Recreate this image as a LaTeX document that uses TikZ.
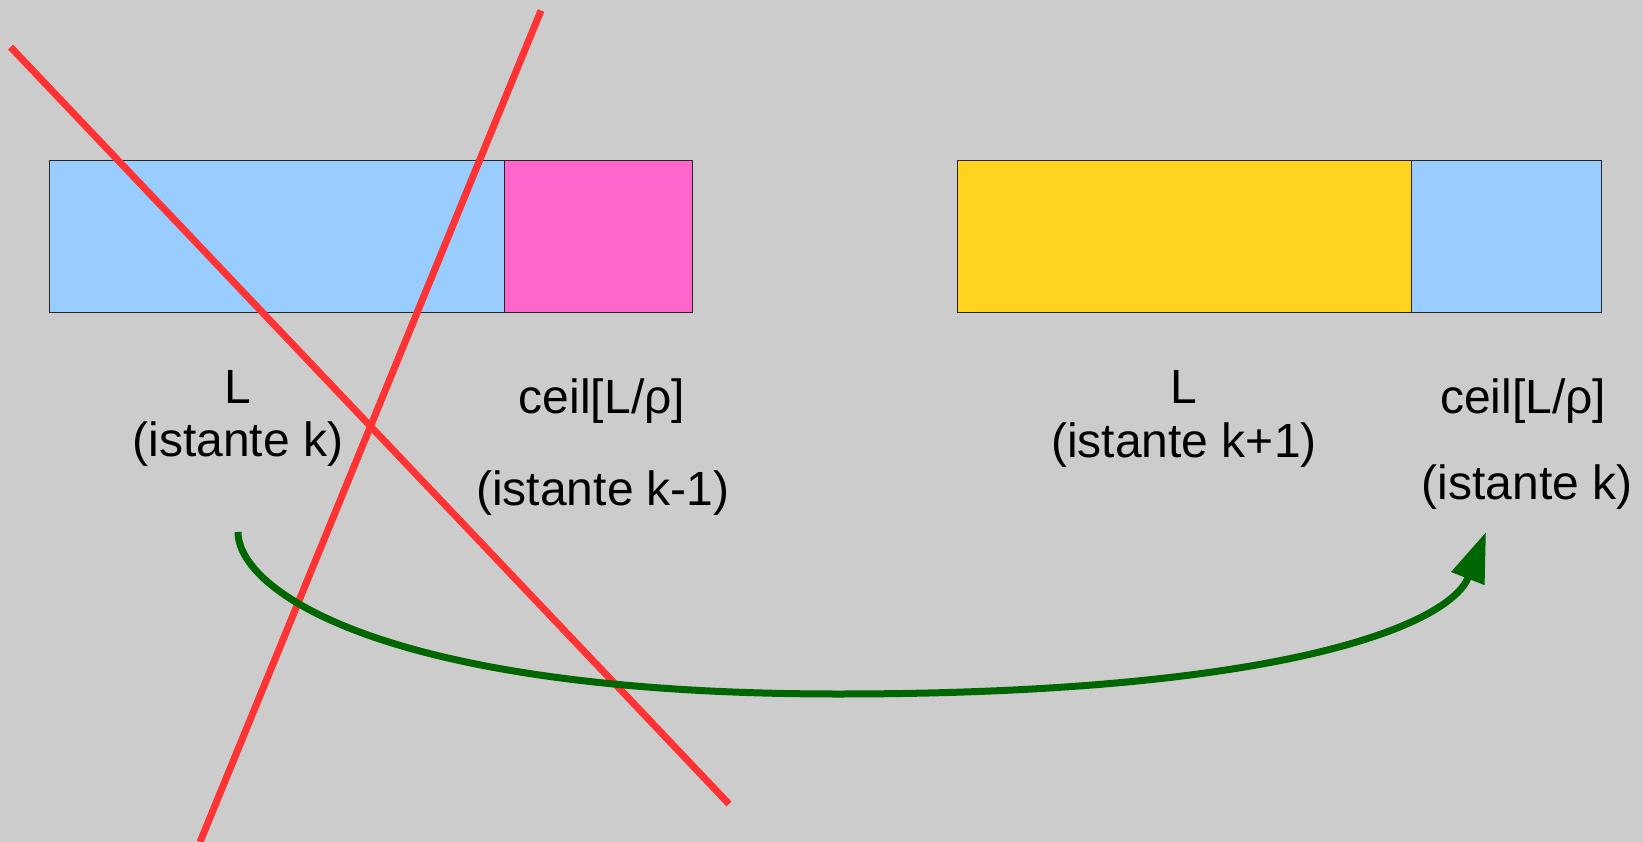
\documentclass[tikz,border=0pt]{standalone}
\usepackage{fontspec}
\setmainfont{Liberation Sans}
\usetikzlibrary{arrows.meta}
\definecolor{bgc}{HTML}{CCCCCC}
\definecolor{lblue}{HTML}{99CCFF}
\definecolor{pinkc}{HTML}{FF66CC}
\definecolor{goldc}{HTML}{FFD320}
\definecolor{redc}{HTML}{FF3333}
\definecolor{greenc}{HTML}{006600}
\tikzset{
  cell/.style={draw=black!85, line width=1pt, anchor=north west, inner sep=0pt, outer sep=0pt},
  lbl/.style={anchor=base, inner sep=0pt, font=\fontsize{48}{53}\selectfont},
  cross/.style={draw=redc, line width=7pt},
  flow/.style={draw=greenc, line width=7pt, -{Triangle[length=50pt,width=34pt]}}
}
\begin{document}
\begin{tikzpicture}[x=1pt,y=-1pt]
\fill[bgc] (0,0) rectangle (1643,842);
\useasboundingbox (0,0) rectangle (1643,842);
% left boxes
\node[cell, fill=lblue, minimum width=455pt, minimum height=151pt] (b1) at (49,161) {};
\node[cell, fill=pinkc, minimum width=188pt, minimum height=151pt] (b2) at (504,161) {};
% right boxes
\node[cell, fill=goldc, minimum width=454pt, minimum height=151pt] (b3) at (957,161) {};
\node[cell, fill=lblue, minimum width=190pt, minimum height=151pt] (b4) at (1411,161) {};
% labels
\node[lbl] (t1) at (238,403) {L};
\node[lbl] (t2) at (238,456) {(istante k)};
\node[lbl] (t3) at (602,413) {ceil[L/ρ]};
\node[lbl] (t4) at (603,505) {(istante k-1)};
\node[lbl] (t5) at (1184,403) {L};
\node[lbl] (t6) at (1184,457) {(istante k+1)};
\node[lbl] (t7) at (1523,413) {ceil[L/ρ]};
\node[lbl] (t8) at (1527,499) {(istante k)};
% red crossing lines
\coordinate (r1a) at (10.5,47);
\coordinate (r1b) at (729,804);
\coordinate (r2a) at (541,10.5);
\coordinate (r2b) at (200,842);
\draw[cross] (r1a) -- (r1b);
\draw[cross] (r2a) -- (r2b);
% green arrow
\coordinate (gs) at (238,532);
\coordinate (gm) at (838,694);
\coordinate (gt) at (1486,532);
\draw[flow] (gs) .. controls (238,592) and (388,694) .. (gm)
  .. controls (1287,694) and (1450,624) .. (gt);
\end{tikzpicture}
\end{document}
